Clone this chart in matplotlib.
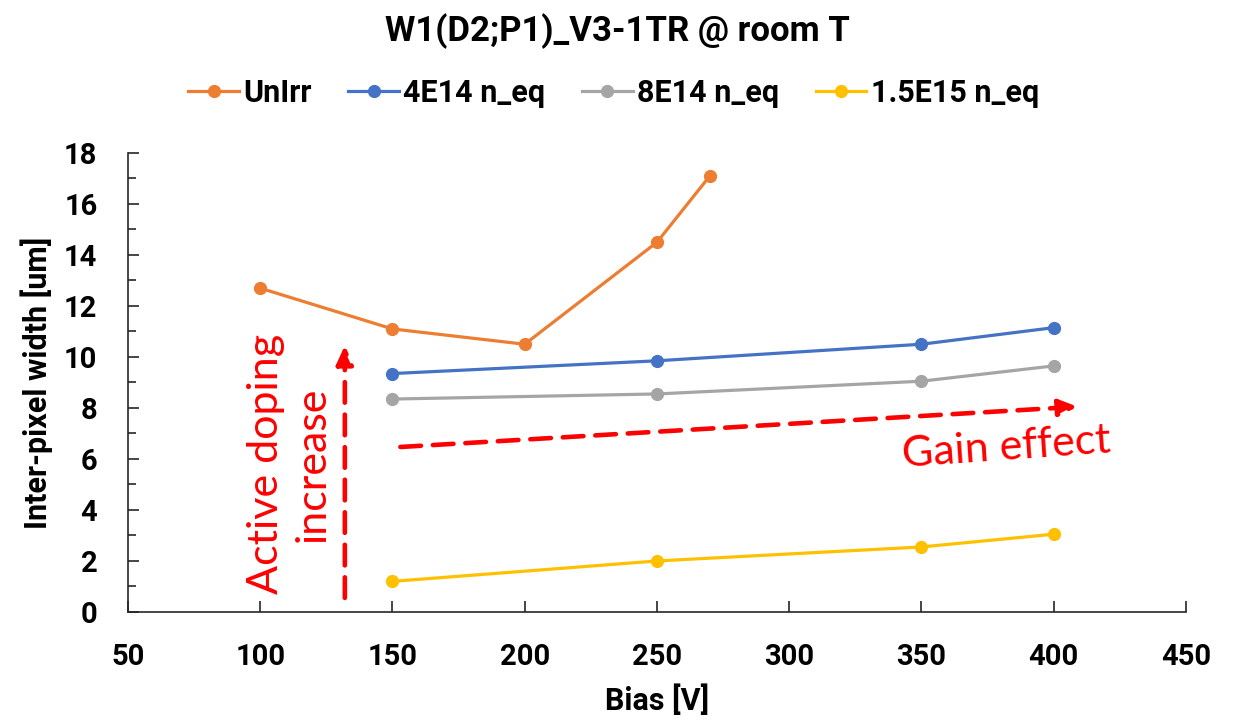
import numpy as np
from matplotlib import use
use('Agg')
from matplotlib import pyplot as plt
from matplotlib.ticker import MultipleLocator

# data
bias_unirr = [100, 150, 200, 250, 270]
ipw_unirr = [12.7, 11.1, 10.5, 14.5, 17.1]

bias_irr = [150, 250, 350, 400]
ipw_4e14 = [9.35, 9.85, 10.5, 11.15]
ipw_8e14 = [8.35, 8.55, 9.05, 9.65]
ipw_15e15 = [1.2, 2.0, 2.55, 3.05]

labels = ['UnIrr', '4E14 n_eq', '8E14 n_eq', '1.5E15 n_eq']
colors = ['#ED7D31', '#4472C4', '#A5A5A5', '#FFC000']

plt.rcParams['font.family'] = ['Roboto', 'DejaVu Sans']
plt.rcParams['font.weight'] = 'bold'

fig = plt.figure(figsize=(12.35, 7.22), dpi=100)
ax = fig.add_axes([0.1036, 0.1524, 0.8567, 0.6357])

series = [(bias_unirr, ipw_unirr), (bias_irr, ipw_4e14),
          (bias_irr, ipw_8e14), (bias_irr, ipw_15e15)]
for (x, y), lab, col in zip(series, labels, colors):
    ax.plot(x, y, '-o', color=col, lw=2.3, ms=8.5, label=lab)

ax.set_xlim(50, 450)
ax.set_ylim(0, 18)
ax.xaxis.set_major_locator(MultipleLocator(50))
ax.yaxis.set_major_locator(MultipleLocator(2))
ax.yaxis.set_minor_locator(MultipleLocator(1))

for s in ['top', 'right']:
    ax.spines[s].set_visible(False)
for s in ['left', 'bottom']:
    ax.spines[s].set_color('#262626')
    ax.spines[s].set_linewidth(1.2)

ax.tick_params(axis='both', which='major', direction='in', length=8, width=1.2,
               color='#262626', labelsize=21, pad=22)
ax.tick_params(axis='y', which='minor', direction='in', length=6, width=1.2,
               color='#262626')

ax.set_xlabel('Bias [V]', fontsize=22, fontweight='bold', labelpad=10)
ax.set_ylabel('Inter-pixel width [um]', fontsize=22, fontweight='bold', labelpad=8)

fig.suptitle('W1(D2;P1)_V3-1TR @ room T', fontsize=25, fontweight='bold',
             y=0.982, va='top')
fig.legend(loc='upper center', bbox_to_anchor=(0.497, 0.93), ncol=4, frameon=False,
           prop={'size': 22, 'weight': 'bold'}, handlelength=1.65,
           columnspacing=1.2, handletextpad=0.15)

# annotations
arrow_kw = dict(arrowstyle='-|>,head_width=0.25,head_length=0.55', mutation_scale=20,
                color='red', lw=3.3, ls=(0, (4.5, 2.6)), shrinkA=0, shrinkB=0)
ax.annotate('', xy=(132, 10.45), xytext=(132, 0.55), arrowprops=arrow_kw)
ax.annotate('', xy=(409, 8.05), xytext=(153, 6.47), arrowprops=arrow_kw)
ax.text(111, 5.8, 'Active doping\nincrease', color='red', fontsize=31,
        fontweight='normal', family=['Lato', 'DejaVu Sans'],
        rotation=90, ha='center', va='center', linespacing=1.25)
ax.text(382, 6.45, 'Gain effect', color='red', fontsize=31, fontweight='normal',
        family=['Lato', 'DejaVu Sans'], rotation=4, ha='center', va='center')

plt.savefig('out.png', dpi=100)
